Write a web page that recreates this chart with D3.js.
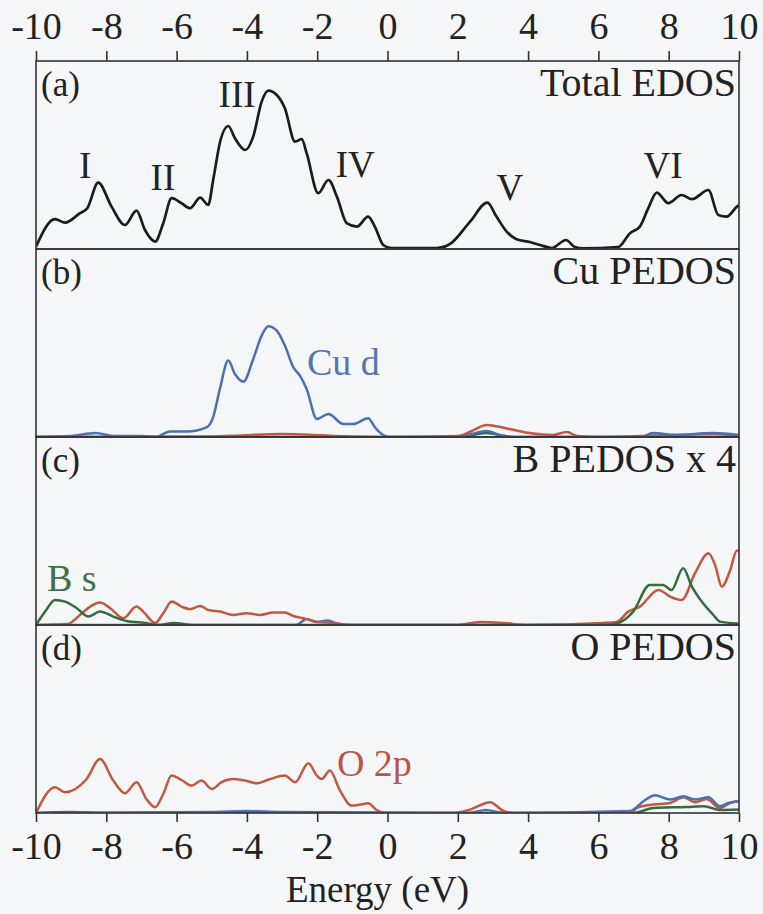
<!DOCTYPE html>
<html><head><meta charset="utf-8">
<script src="https://cdn.jsdelivr.net/npm/d3@7"></script>
<style>html,body{margin:0;padding:0;background:#f5f6f8;} svg{display:block;}</style>
</head><body><svg id="chart" width="763" height="914"></svg>
<script>
// ---------- DATA ----------
const energyTicks = [-10, -8, -6, -4, -2, 0, 2, 4, 6, 8, 10];
const panelLetters = ["(a)", "(b)", "(c)", "(d)"];
const panelTitles = ["Total EDOS", "Cu PEDOS", "B PEDOS x 4", "O PEDOS"];
const xLabel = "Energy (eV)";

// [energy (eV), DOS (arb. units)]
const totalEDOS = [[-10,0.12],[-9.46,1.49],[-9.17,1.32],[-8.75,1.79],[-8.54,2.04],[-8.23,3.32],[-7.85,2.12],[-7.47,1.2],[-7.14,1.92],[-6.9,0.95],[-6.61,0.37],[-6.38,1.29],[-6.14,2.54],[-5.86,2.29],[-5.62,2.04],[-5.33,2.57],[-5.1,2.2],[-4.96,3.45],[-4.75,5.45],[-4.53,6.15],[-4.34,5.54],[-4.05,4.95],[-3.82,5.62],[-3.58,7.37],[-3.39,7.92],[-3.15,7.7],[-2.92,7.04],[-2.63,5.37],[-2.44,5.49],[-2.3,4.79],[-1.97,2.79],[-1.68,3.45],[-1.44,2.62],[-1.16,1.29],[-0.87,1.12],[-0.55,1.62],[-0.36,1.12],[-0.12,0.2],[0.1,0.05],[1.4,0.05],[1.78,0.25],[2.35,1.37],[2.84,2.32],[3.1,1.62],[3.39,0.87],[3.67,0.49],[4.05,0.35],[4.34,0.2],[4.67,0.05],[5.08,0.45],[5.33,0.1],[5.57,0.03],[6.56,0.1],[6.9,0.79],[7.18,1.12],[7.42,2.04],[7.66,2.82],[7.99,2.29],[8.37,2.7],[8.66,2.49],[9.13,2.95],[9.41,1.7],[9.65,1.62],[9.94,2.12],[10,2.2]];

const cuD = [[-10,0],[-9,0.05],[-8.3,0.2],[-7.8,0.05],[-7,0.05],[-6.6,0],[-6.19,0.27],[-5.71,0.27],[-5.14,0.49],[-4.96,0.99],[-4.77,2.4],[-4.53,3.82],[-4.34,3.15],[-4.1,2.77],[-3.82,3.9],[-3.58,5.07],[-3.39,5.54],[-3.15,5.32],[-2.92,4.57],[-2.68,3.49],[-2.49,3.07],[-2.3,2.4],[-2.01,0.9],[-1.68,1.15],[-1.26,0.65],[-0.97,0.65],[-0.55,0.94],[-0.36,0.49],[-0.12,0.1],[0.1,0],[2.0,0],[2.4,0.15],[2.82,0.3],[3.2,0.1],[3.6,0],[7.2,0],[7.55,0.2],[8.2,0.1],[9.26,0.2],[10,0.1]];
const cuRed = [[-10,0],[-5,0.03],[-3,0.15],[-1.5,0.05],[0,0],[2,0.05],[2.4,0.3],[2.82,0.6],[3.49,0.39],[4.04,0.2],[4.7,0.1],[5.1,0.25],[5.4,0.05],[6,0],[8,0.1],[9.3,0.15],[10,0.05]];
const cuGreen = [[-10,0],[2,0],[2.4,0.1],[2.82,0.2],[3.3,0.05],[3.8,0],[10,0]];

const bS = [[-10,0],[-9.74,0.67],[-9.46,1.25],[-9.17,1.17],[-8.84,0.84],[-8.51,0.42],[-8.18,0.67],[-7.8,0.42],[-7.42,0.2],[-6.9,0.1],[-6.5,0],[-6.1,0.1],[-5.5,0],[6.2,0],[6.56,0.1],[6.99,0.67],[7.46,2.0],[7.84,2.0],[8.08,1.75],[8.41,2.84],[8.66,1.92],[8.94,1.17],[9.27,0.5],[9.46,0.17],[9.94,0.08],[10,0.08]];
const bP = [[-10,0],[-9.1,0.05],[-8.75,0.5],[-8.46,0.92],[-8.18,1.12],[-7.89,0.84],[-7.52,0.34],[-7.14,0.92],[-6.95,0.67],[-6.61,0.1],[-6.38,0.59],[-6.14,1.17],[-5.86,0.92],[-5.62,0.79],[-5.33,0.95],[-5.1,0.75],[-4.77,0.67],[-4.39,0.5],[-4.01,0.59],[-3.63,0.5],[-3.25,0.62],[-2.92,0.62],[-2.68,0.45],[-2.39,0.34],[-2.0,0.15],[-1.5,0.1],[-1.1,0],[2.0,0],[2.35,0.09],[2.63,0.15],[3.3,0.1],[4.0,0],[6.14,0.1],[6.52,0.15],[6.85,0.67],[7.18,0.92],[7.71,1.75],[8.04,1.42],[8.37,1.25],[8.75,2.59],[9.13,3.59],[9.32,3.0],[9.51,1.92],[9.75,2.75],[9.94,3.72],[10,3.7]];
const bBlue = [[-10,0],[-2.6,0],[-2.3,0.3],[-2.0,0.15],[-1.7,0.22],[-1.4,0.05],[-1.0,0],[10,0]];

const oP = [[-10,0],[-9.46,1.29],[-9.17,1.04],[-8.56,1.7],[-8.18,2.7],[-7.8,1.62],[-7.47,0.99],[-7.14,1.54],[-6.86,0.7],[-6.61,0.29],[-6.38,0.95],[-6.14,1.87],[-5.86,1.65],[-5.57,1.37],[-5.29,1.62],[-5.0,1.2],[-4.72,1.54],[-4.39,1.7],[-4.05,1.62],[-3.72,1.49],[-3.34,1.7],[-2.92,1.87],[-2.63,1.54],[-2.25,2.49],[-2.01,1.87],[-1.87,1.7],[-1.64,2.12],[-1.35,1.12],[-1.02,0.37],[-0.78,0.42],[-0.55,0.49],[-0.31,0.15],[-0.05,0],[1.87,0],[2.35,0.17],[2.92,0.54],[3.3,0.1],[3.6,0],[6.9,0],[7.09,0.25],[7.56,0.42],[8.04,0.5],[8.42,0.79],[8.75,0.54],[9.08,0.7],[9.46,0.25],[9.75,0.5],[10,0.6]];
const oBlue = [[-10,0],[-5,0.05],[-4,0.1],[-3,0.05],[2.3,0],[2.8,0.15],[3.3,0],[6.9,0.1],[7.28,0.59],[7.61,0.89],[8.04,0.67],[8.42,0.84],[8.75,0.67],[9.13,0.79],[9.46,0.34],[9.7,0.5],[10,0.6]];
const oGreen = [[-10,0],[-9,0.05],[-8,0],[7.0,0],[7.56,0.25],[8.5,0.3],[9.0,0.34],[9.46,0.15],[10,0.17]];

// Peak labels in panel (a): [label, energy, DOS]
const peakLabels = [["I",-8.6,3.55],["II",-6.39,2.95],["III",-4.28,7.1],["IV",-0.92,3.6],["V",3.48,2.45],["VI",7.84,3.55]];
// Series labels: [panel index, text, energy, DOS, colour key]
const seriesLabels = [[1,"Cu d",-2.29,3.1,"blue"],[2,"B s",-9.69,1.7,"green"],[3,"O 2p",-1.44,1.85,"red"]];

// ---------- STYLE / LAYOUT ----------
const colors = {black:"#1c1c1c", blue:"#4b6fb2", red:"#c4573f", green:"#366b40"};
const labelColors = {blue:"#5675b3", green:"#3f7049", red:"#b75546"};
const panels = [
  {series:[{d:totalEDOS,c:"black",w:2.7}]},
  {series:[{d:cuGreen,c:"green",w:2.5},{d:cuRed,c:"red",w:2.5},{d:cuD,c:"blue",w:2.5}]},
  {series:[{d:bBlue,c:"blue",w:2.5},{d:bP,c:"red",w:2.5},{d:bS,c:"green",w:2.5}]},
  {series:[{d:oGreen,c:"green",w:2.5},{d:oP,c:"red",w:2.5},{d:oBlue,c:"blue",w:2.5}]}
];
const W = 763, H = 914;
const left = 36, right = 739, top0 = 61, ph = 188;
const font = "'Liberation Serif', 'Times New Roman', serif";
const textCol = "#222";

const svg = d3.select("#chart");
svg.append("rect").attr("width",W).attr("height",H).attr("fill","#f5f6f8");

const x = d3.scaleLinear().domain([-10,10]).range([left,right]);
const ymax = 9.4;
const line = (ys) => d3.line().x(d=>x(d[0])).y(d=>ys(d[1])).curve(d3.curveMonotoneX);

panels.forEach((p,i)=>{
  const t = top0 + i*ph, b = t + ph;
  const y = d3.scaleLinear().domain([0,ymax]).range([b,t]);
  const clipId = "clip"+i;
  svg.append("clipPath").attr("id",clipId).append("rect")
    .attr("x",left).attr("y",t).attr("width",right-left).attr("height",ph);
  const g = svg.append("g").attr("clip-path",`url(#${clipId})`);
  p.series.forEach(s=>{
    g.append("path").datum(s.d).attr("d",line(y))
      .attr("fill","none").attr("stroke",colors[s.c]).attr("stroke-width",s.w)
      .attr("stroke-linejoin","round");
  });
  // panel frame
  svg.append("rect").attr("x",left).attr("y",t).attr("width",right-left).attr("height",ph)
    .attr("fill","none").attr("stroke","#333").attr("stroke-width",1.6);
  svg.append("text").attr("x",left+5).attr("y",t+35).text(panelLetters[i])
    .attr("font-family",font).attr("font-size",35).attr("fill",textCol);
  svg.append("text").attr("x",right-3).attr("y",t+35).text(panelTitles[i])
    .attr("text-anchor","end").attr("font-family",font).attr("font-size",40).attr("fill",textCol);
  if(i===0){
    peakLabels.forEach(l=>{
      svg.append("text").attr("x",x(l[1])).attr("y",y(l[2])).text(l[0])
        .attr("text-anchor","middle").attr("font-family",font).attr("font-size",37).attr("fill",textCol);
    });
  }
  seriesLabels.filter(l=>l[0]===i).forEach(l=>{
    svg.append("text").attr("x",x(l[2])).attr("y",y(l[3])).text(l[1])
      .attr("font-family",font).attr("font-size",38).attr("fill",labelColors[l[4]]);
  });
});

// axes
const bottomY = top0 + 4*ph;
const topAxis = d3.axisTop(x).tickValues(energyTicks).tickSize(10).tickPadding(12).tickFormat(d3.format("d"));
const botAxis = d3.axisBottom(x).tickValues(energyTicks).tickSize(9).tickPadding(10).tickFormat(d3.format("d"));
const styleAxis = g => {
  g.select(".domain").remove();
  g.selectAll(".tick line").attr("stroke","#333").attr("stroke-width",1.6);
  g.selectAll(".tick text").attr("font-family",font).attr("font-size",38).attr("fill",textCol)
    .text(d=> d<0 ? "-"+Math.abs(d) : String(d));
};
svg.append("g").attr("transform",`translate(0,${top0})`).call(topAxis).call(styleAxis);
svg.append("g").attr("transform",`translate(0,${bottomY})`).call(botAxis).call(styleAxis);

svg.append("text").attr("x",(left+right)/2-10).attr("y",902).text(xLabel)
  .attr("text-anchor","middle").attr("font-family",font).attr("font-size",37).attr("fill",textCol);
</script>
</body></html>
